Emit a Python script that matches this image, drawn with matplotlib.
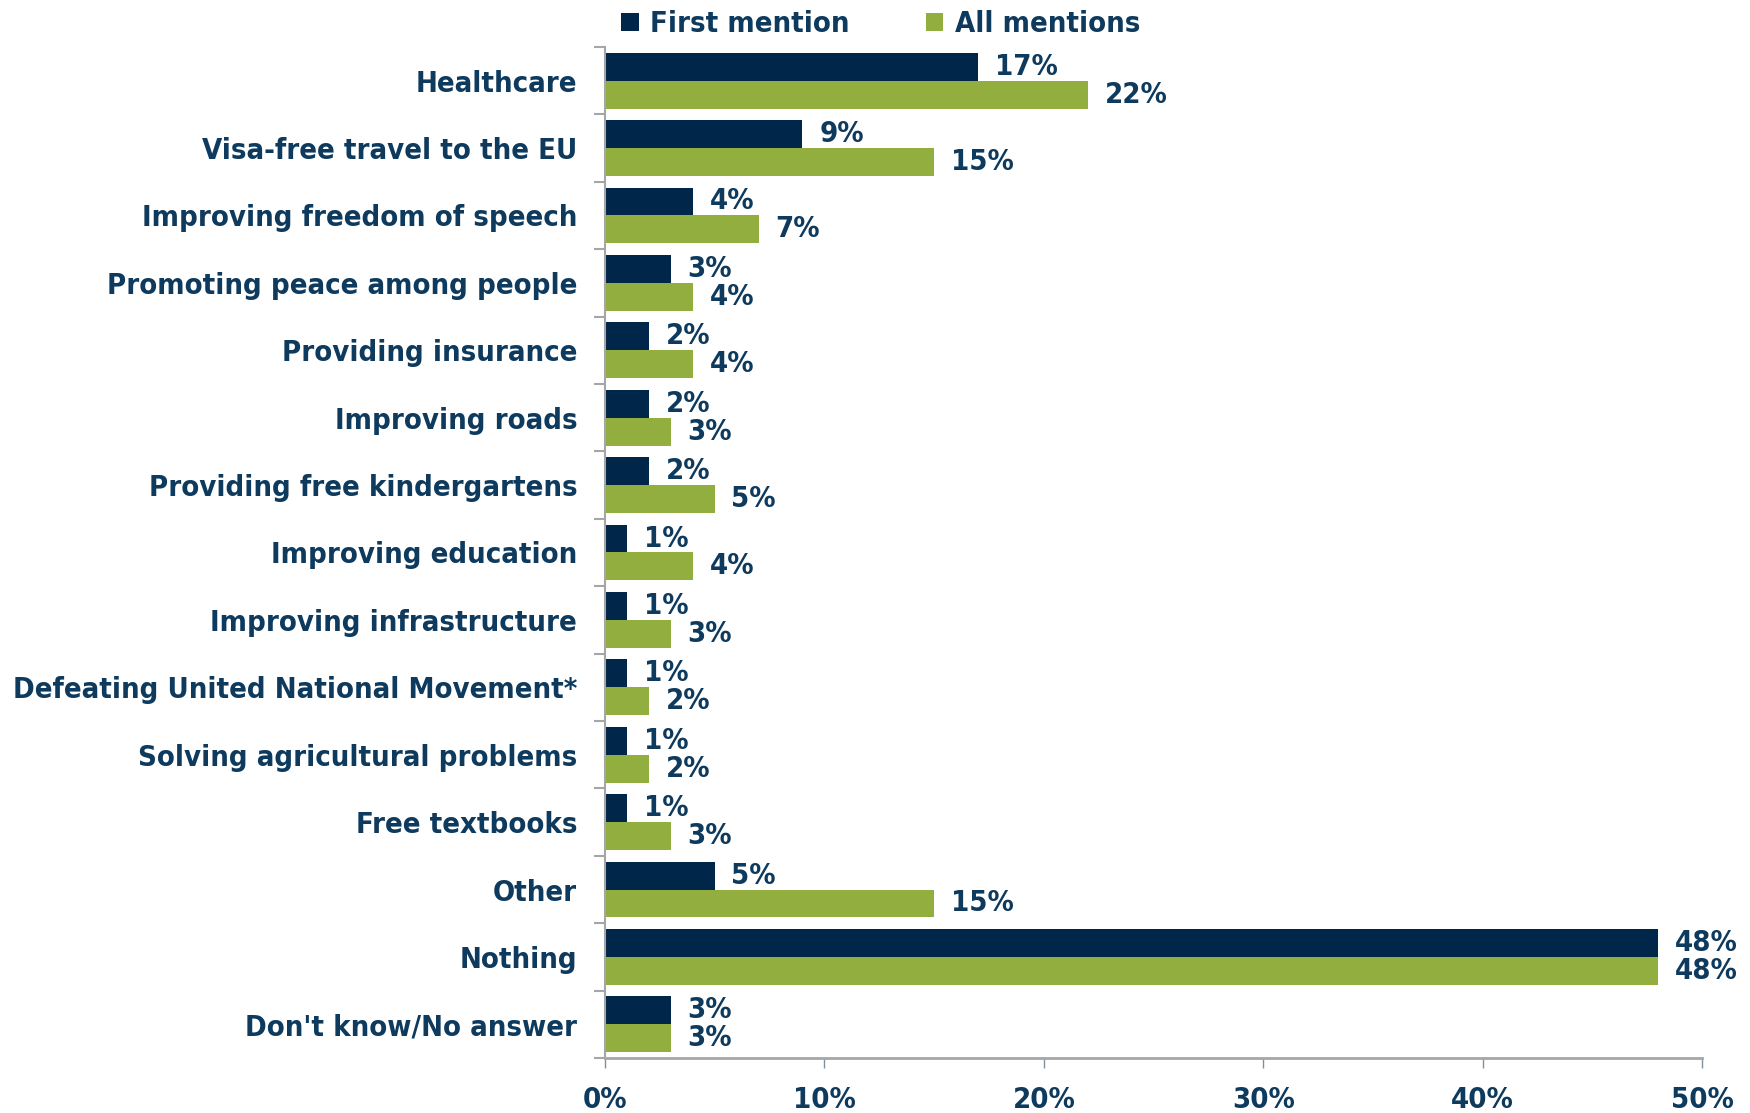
import numpy as np
import matplotlib
matplotlib.use("Agg")
import matplotlib.pyplot as plt

categories = ["Healthcare", "Visa-free travel to the EU", "Improving freedom of speech",
              "Promoting peace among people", "Providing insurance", "Improving roads",
              "Providing free kindergartens", "Improving education", "Improving infrastructure",
              "Defeating United National Movement*", "Solving agricultural problems",
              "Free textbooks", "Other", "Nothing", "Don't know/No answer"]
first_mention = [17, 9, 4, 3, 2, 2, 2, 1, 1, 1, 1, 1, 5, 48, 3]
all_mentions = [22, 15, 7, 4, 4, 3, 5, 4, 3, 2, 2, 3, 15, 48, 3]
xticks = [0, 10, 20, 30, 40, 50]

NAVY = "#00264A"
GREEN = "#92AE3F"
TEXT = "#0E3A5E"
GREY = "#A6A6A6"

plt.rcParams["font.family"] = "DejaVu Sans"
font = dict(family="DejaVu Sans", stretch="condensed", weight="bold", color=TEXT)

fig = plt.figure(figsize=(17.5, 11.13), dpi=100)
ax = fig.add_axes([0.3457, 0.0494, 0.627, 0.9084])

y = np.arange(len(categories))
h = 0.415
b1 = ax.barh(y - h / 2, first_mention, height=h, color=NAVY, label="First mention")
b2 = ax.barh(y + h / 2, all_mentions, height=h, color=GREEN, label="All mentions")

for bars, vals in ((b1, first_mention), (b2, all_mentions)):
    for bar, v in zip(bars, vals):
        ax.annotate(f"{v}%", (bar.get_width(), bar.get_y() + bar.get_height() / 2),
                    xytext=(12, 0), textcoords="offset points", va="center", ha="left",
                    fontsize=21, **font)

ax.set_xlim(0, 50)
ax.set_ylim(len(categories) - 0.5, -0.5)
ax.set_xticks(xticks)
ax.set_xticklabels([f"{t}%" for t in xticks], fontsize=21, **font)
ax.set_yticks(y)
ax.set_yticklabels(categories, fontsize=21, **font)
ax.set_yticks(np.arange(len(categories) + 1) - 0.5, minor=True)
ax.tick_params(axis="y", which="major", length=0, pad=20)
ax.tick_params(axis="y", which="minor", length=8, color=GREY, width=1.5)
ax.tick_params(axis="x", length=7, color="#8090A0", width=1, pad=13)

for s in ("top", "right"):
    ax.spines[s].set_visible(False)
ax.spines["left"].set_color(GREY)
ax.spines["bottom"].set_color(GREY)
ax.spines["left"].set_linewidth(1.5)
ax.spines["bottom"].set_linewidth(2)

leg = ax.legend(loc="center left", bbox_to_anchor=(0.340, 0.978), bbox_transform=fig.transFigure,
                ncol=2, frameon=False, handlelength=0.6, handleheight=0.6, handletextpad=0.4,
                columnspacing=2.6, prop=dict(family="DejaVu Sans", stretch="condensed",
                                            weight="bold", size=21))
for t in leg.get_texts():
    t.set_color(TEXT)

fig.savefig("out.png", dpi=100)
